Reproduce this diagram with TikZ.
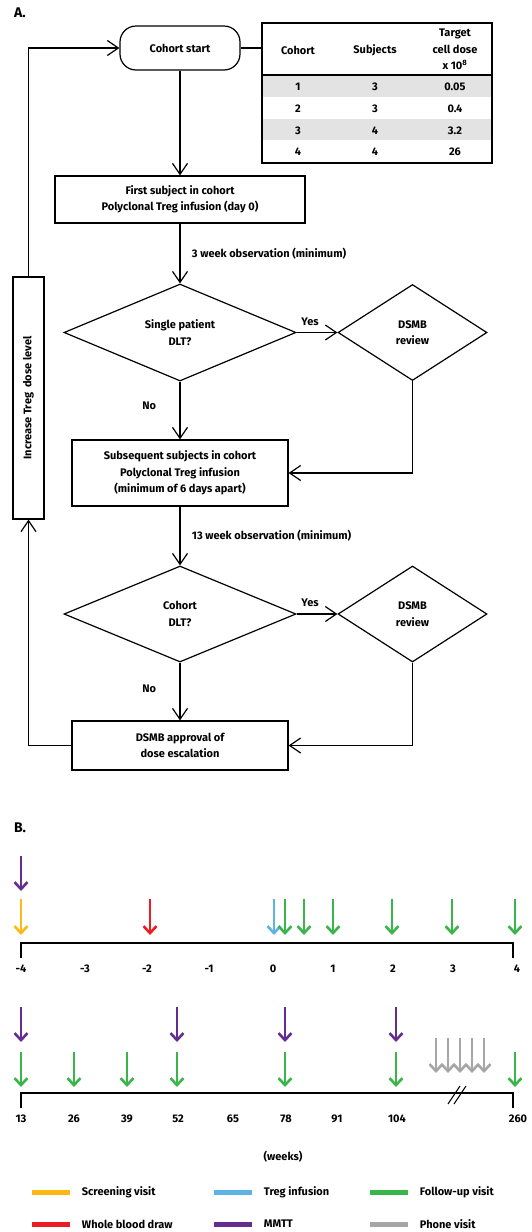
\documentclass[tikz,border=0pt]{standalone}
\usepackage{fontspec}
\setmainfont{Fira Sans}
\usetikzlibrary{positioning,arrows.meta,shapes.geometric}

\definecolor{screening}{HTML}{FDB913}
\definecolor{blooddraw}{HTML}{ED1C24}
\definecolor{infusion}{HTML}{5DB3E4}
\definecolor{followup}{HTML}{39B54A}
\definecolor{mmtt}{HTML}{662D91}
\definecolor{phone}{HTML}{A6A6A6}

\begin{document}
\begin{tikzpicture}[x=1pt,y=-1pt,
    font=\fontsize{11}{16.5}\selectfont\bfseries,
    line width=1.2pt,
    >={Straight Barb[length=11pt,width=15pt]},
    box/.style={rectangle,draw,align=center,inner sep=0pt},
    decision/.style={diamond,draw,align=center,inner sep=0pt,aspect=2.4},
    visit/.style={line width=2.6pt,-{Straight Barb[length=7pt,width=13pt]}},
    swatch/.style={line width=5pt}]
    \useasboundingbox (0,0) rectangle (531,1232);

    % Part A: flow of one cohort
    \node (label_a) at (20,13) {\fontsize{14}{16}\selectfont\bfseries A.};
    \node[box,rounded corners=16pt,minimum width=120pt,minimum height=44pt] (cohort_start) at (180,48) {Cohort start};
    \node[box,minimum width=250pt,minimum height=47pt] (first_subject) at (180,199.5) {First subject in cohort\\Polyclonal Treg infusion (day 0)};
    \node[decision,minimum width=232pt,minimum height=97pt] (single_dlt) at (180,332.5) {Single patient\\DLT?};
    \node[decision,minimum width=149pt,minimum height=96pt] (review1) at (412.5,332.5) {DSMB\\review};
    \node[box,minimum width=216pt,minimum height=66pt] (subsequent) at (180,473) {Subsequent subjects in cohort\\Polyclonal Treg infusion\\(minimum of 6 days apart)};
    \node[decision,minimum width=232pt,minimum height=96pt] (cohort_dlt) at (180,614) {Cohort\\DLT?};
    \node[decision,minimum width=149pt,minimum height=96pt] (review2) at (412.5,614) {DSMB\\review};
    \node[box,minimum width=216pt,minimum height=49pt] (approval) at (180,745.5) {DSMB approval of\\dose escalation};
    \node[box,rotate=90,minimum width=242pt,minimum height=31pt] (increase) at (28.5,398) {Increase Treg\ \ dose level};

    % Dose table
    \fill[gray!22] (263,76) rectangle (491,97);
    \fill[gray!22] (263,119) rectangle (491,140);
    \node[draw,minimum width=230pt,minimum height=140pt,inner sep=0pt] (dose_table) at (377,93) {};
    \draw[line width=1.8pt] (dose_table.west |- 0,75) -- (dose_table.east |- 0,75);
    \node (head_cohort) at (298,50) {Cohort};
    \node (head_subjects) at (375,50) {Subjects};
    \node[align=center] (head_dose) at (455,49.5) {Target\\cell dose\\x 10\textsuperscript{8}};
    \foreach \c/\s/\d [count=\r] in {1/3/0.05,2/3/0.4,3/4/3.2,4/4/26} {
        \node (cohort\r) at (298,65.3+21.7*\r) {\c};
        \node (subjects\r) at (375,65.3+21.7*\r) {\s};
        \node (dose\r) at (455,65.3+21.7*\r) {\d};
    }

    \draw (cohort_start.east) -- (dose_table.west |- cohort_start.east);
    \draw[->] (cohort_start) -- (first_subject);
    \draw[->] (first_subject) -- node (obs_first) [right=8pt] {3 week observation (minimum)} (single_dlt);
    \draw[->] (single_dlt.east) -- node (yes1) [pos=0.33,above=3pt] {Yes} (review1.west);
    \draw[->] (single_dlt.south) -- node (no1) [pos=0.42,left=20pt] {No} (subsequent.north);
    \draw[->] (review1.south) |- (subsequent.east);
    \draw[->] (subsequent) -- node (obs_cohort) [right=8pt] {13 week observation (minimum)} (cohort_dlt);
    \draw[->] (cohort_dlt.east) -- node (yes2) [pos=0.33,above=3pt] {Yes} (review2.west);
    \draw[->] (cohort_dlt.south) -- node (no2) [pos=0.46,left=20pt] {No} (approval.north);
    \draw[->] (review2.south) |- (approval.east);
    \draw[->] (approval.west) -| (increase.west);
    \draw[->] (increase.east) |- (cohort_start.west);

    % Part B: visit schedule
    \node (label_b) at (20,828) {\fontsize{14}{16}\selectfont\bfseries B.};
    \coordinate (days_start) at (21,943);
    \coordinate (days_end) at (513,943);
    \coordinate (weeks_start) at (21,1093);
    \coordinate (weeks_end) at (513,1093);
    \draw[line width=1.6pt] ([yshift=-15pt]days_start) -- (days_start) -- (days_end) -- ([yshift=-15pt]days_end);
    \draw[line width=1.6pt] ([yshift=-15pt]weeks_start) -- (weeks_start) -- (weeks_end) -- ([yshift=-15pt]weeks_end);
    \draw[line width=1pt] (448,1104) -- (460,1086) (454,1104) -- (466,1086);

    \foreach \w/\x [count=\i] in {-4/21,-3/85,-2/147,-1/209,0/273,1/333,2/393,3/453,4/517}
        \node (day\i) at (\x,969) {\w};
    \foreach \w/\x [count=\i] in {13/21,26/74,39/127,52/178,65/233,78/286,91/337,104/397,260/518}
        \node (week\i) at (\x,1119) {\w};
    \node (weeks_unit) at (283,1157) {(weeks)};

    % visits in days
    \draw[visit,mmtt] (21,856) -- (21,891);
    \foreach \x/\c in {21/screening,150/blooddraw,274/infusion,285/followup,304/followup,333/followup,392/followup,452/followup,515/followup}
        \draw[visit,color=\c] (\x,899) -- (\x,935);
    % visits in weeks
    \foreach \x in {21,177,285,396}
        \draw[visit,mmtt] (\x,1007) -- (\x,1042);
    \foreach \x in {21,74,127,177,285,396,515}
        \draw[visit,followup] (\x,1052) -- (\x,1087);
    \foreach \x in {436,448,460,472,484}
        \draw[visit,phone] (\x,1038) -- (\x,1073);

    % legend
    \foreach \c/\t/\x/\y [count=\i] in {screening/Screening visit/32/1192,infusion/Treg infusion/214/1192,followup/Follow-up visit/370/1192,blooddraw/Whole blood draw/32/1224,mmtt/MMTT/214/1224,phone/Phone visit/370/1224} {
        \draw[swatch,color=\c] (\x,\y) -- ++(38,0);
        \node[anchor=west] (legend\i) at (\x+46,\y) {\t};
    }
\end{tikzpicture}
\end{document}
